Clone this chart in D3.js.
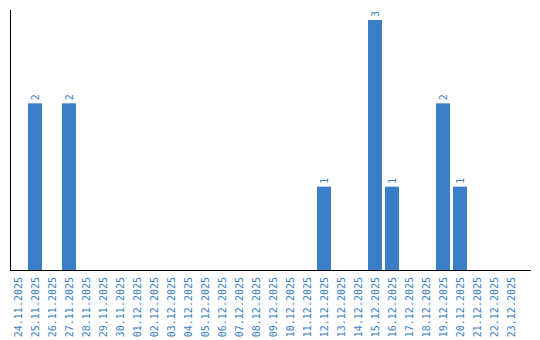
<!DOCTYPE html>
<html>
<head>
<meta charset="utf-8">
<script src="https://cdn.jsdelivr.net/npm/d3@7/dist/d3.min.js"></script>
<style>
  html, body { margin: 0; padding: 0; background: #fff; }
  svg { display: block; }
</style>
</head>
<body>
<svg id="chart" width="540" height="340"></svg>
<script>
const categories = [
  "24.11.2025","25.11.2025","26.11.2025","27.11.2025","28.11.2025","29.11.2025",
  "30.11.2025","01.12.2025","02.12.2025","03.12.2025","04.12.2025","05.12.2025",
  "06.12.2025","07.12.2025","08.12.2025","09.12.2025","10.12.2025","11.12.2025",
  "12.12.2025","13.12.2025","14.12.2025","15.12.2025","16.12.2025","17.12.2025",
  "18.12.2025","19.12.2025","20.12.2025","21.12.2025","22.12.2025","23.12.2025"
];
const values = [
  0,2,0,2,0,0,
  0,0,0,0,0,0,
  0,0,0,0,0,0,
  1,0,0,3,1,0,
  0,2,1,0,0,0
];

const color = "#3a7fc5";
const svg = d3.select("#chart");

const x = d3.scaleBand()
  .domain(categories)
  .range([11, 518])
  .paddingInner(3 / 17)
  .paddingOuter(0);

const y = d3.scaleLinear()
  .domain([0, 3])
  .range([270, 20]);

const data = categories.map((c, i) => ({ c, v: values[i] }));

// bars
svg.append("g").selectAll("rect")
  .data(data.filter(d => d.v > 0))
  .join("rect")
  .attr("x", d => x(d.c))
  .attr("y", d => y(d.v))
  .attr("width", x.bandwidth())
  .attr("height", d => y(0) - y(d.v))
  .attr("fill", color);

// value labels
svg.append("g").selectAll("text")
  .data(data.filter(d => d.v > 0))
  .join("text")
  .attr("transform", d => `translate(${x(d.c) + x.bandwidth() / 2},${y(d.v) - 3}) rotate(-90)`)
  .attr("text-anchor", "start")
  .attr("dy", "0.35em")
  .attr("font-family", "DejaVu Sans Mono, monospace")
  .attr("font-size", "10px")
  .attr("fill", color)
  .text(d => d.v);

// category labels
svg.append("g").selectAll("text")
  .data(categories)
  .join("text")
  .attr("transform", d => `translate(${x(d) + x.bandwidth() / 2},277) rotate(-90)`)
  .attr("text-anchor", "end")
  .attr("dy", "0.35em")
  .attr("font-family", "DejaVu Sans Mono, monospace")
  .attr("font-size", "10px")
  .attr("fill", color)
  .text(d => d);

// axes lines
svg.append("line")
  .attr("x1", 10.5).attr("x2", 10.5)
  .attr("y1", 10).attr("y2", 270.5)
  .attr("stroke", "#000").attr("stroke-width", 1);
svg.append("line")
  .attr("x1", 10).attr("x2", 531)
  .attr("y1", 270.5).attr("y2", 270.5)
  .attr("stroke", "#000").attr("stroke-width", 1);
</script>
</body>
</html>
